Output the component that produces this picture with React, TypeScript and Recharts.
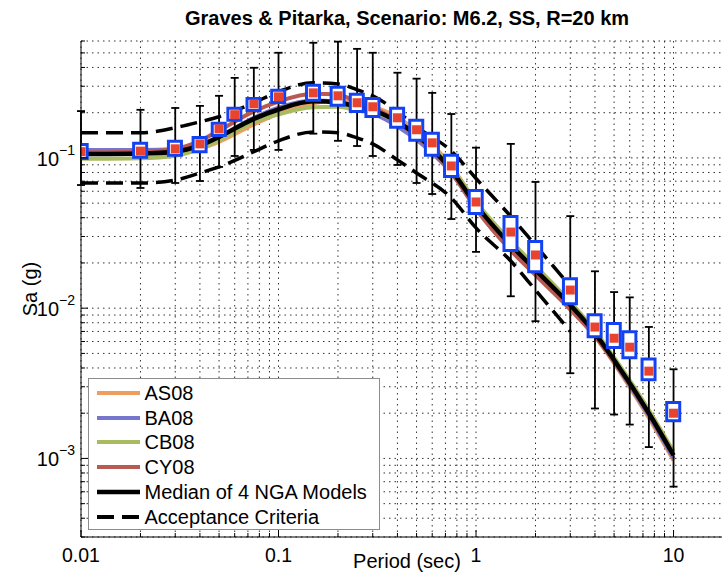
import React from 'react';
import {
  ComposedChart,
  Line,
  Bar,
  Scatter,
  ErrorBar,
  XAxis,
  YAxis,
  CartesianGrid,
  Legend,
  Label,
} from 'recharts';

// NGA model curves (Sa in g) at these periods (sec)
const curvePeriod = [0.01, 0.02, 0.03, 0.04, 0.05, 0.075, 0.1, 0.15, 0.2, 0.25, 0.3, 0.4, 0.5, 0.75, 1, 1.5, 2, 3, 4, 5, 7.5, 10];
const as08 = [0.106, 0.107, 0.108, 0.115, 0.128, 0.167, 0.197, 0.231, 0.241, 0.229, 0.219, 0.186, 0.152, 0.088, 0.0505, 0.0268, 0.018, 0.0103, 0.0065, 0.0043, 0.00186, 0.00097];
const ba08 = [0.113, 0.113, 0.114, 0.123, 0.139, 0.185, 0.216, 0.241, 0.236, 0.211, 0.197, 0.162, 0.132, 0.079, 0.0471, 0.0258, 0.0176, 0.0103, 0.0066, 0.00438, 0.00192, 0.001];
const cb08 = [0.0986, 0.0995, 0.1034, 0.115, 0.131, 0.173, 0.195, 0.217, 0.219, 0.207, 0.201, 0.174, 0.145, 0.0863, 0.051, 0.0279, 0.0191, 0.011, 0.00707, 0.0047, 0.0021, 0.00111];
const cy08 = [0.109, 0.11, 0.115, 0.13, 0.152, 0.204, 0.237, 0.267, 0.264, 0.235, 0.217, 0.174, 0.139, 0.08, 0.0457, 0.0242, 0.0166, 0.0098, 0.0065, 0.0044, 0.00198, 0.00105];
const median = [0.106, 0.107, 0.11, 0.121, 0.138, 0.182, 0.21, 0.238, 0.235, 0.218, 0.207, 0.174, 0.142, 0.083, 0.0486, 0.0263, 0.018, 0.0105, 0.0068, 0.00452, 0.002, 0.00105];

// acceptance criteria band
const accPeriod = [0.01, 0.02, 0.03, 0.04, 0.05, 0.075, 0.1, 0.15, 0.2, 0.25, 0.3, 0.4, 0.5, 0.75, 1, 1.5, 2, 3];
const accUpper = [0.147, 0.147, 0.159, 0.174, 0.188, 0.233, 0.276, 0.316, 0.311, 0.284, 0.259, 0.203, 0.161, 0.111, 0.073, 0.0408, 0.0262, 0.014];
const accLower = [0.068, 0.068, 0.0713, 0.0794, 0.0871, 0.11, 0.13, 0.149, 0.147, 0.136, 0.124, 0.097, 0.0794, 0.0541, 0.0342, 0.0206, 0.0132, 0.007];

// simulation results: median, whiskers and boxes
const obsPeriod = [0.01, 0.02, 0.03, 0.04, 0.05, 0.06, 0.075, 0.1, 0.15, 0.2, 0.25, 0.3, 0.4, 0.5, 0.6, 0.75, 1, 1.5, 2, 3, 4, 5, 6, 7.5, 10];
const obsSa = [0.11, 0.111, 0.115, 0.124, 0.156, 0.194, 0.229, 0.255, 0.271, 0.259, 0.233, 0.219, 0.185, 0.154, 0.126, 0.0884, 0.0509, 0.0321, 0.0226, 0.0132, 0.00749, 0.00631, 0.0055, 0.00381, 0.002];
const whiskerHi = [0.205, 0.209, 0.215, 0.222, 0.259, 0.341, 0.398, 0.501, 0.584, 0.594, 0.532, 0.501, 0.369, 0.337, 0.271, 0.196, 0.117, 0.124, 0.0692, 0.041, 0.0176, 0.0128, 0.0118, 0.0075, 0.00392];
const whiskerLo = [0.066, 0.0631, 0.0681, 0.0702, 0.0871, 0.103, 0.113, 0.113, 0.145, 0.13, 0.12, 0.103, 0.0898, 0.0681, 0.0575, 0.0392, 0.0237, 0.012, 0.00819, 0.00369, 0.00215, 0.00196, 0.00168, 0.00119, 0.000649];
const boxHi = [0.123, 0.125, 0.129, 0.137, 0.17, 0.214, 0.249, 0.282, 0.305, 0.295, 0.265, 0.249, 0.214, 0.178, 0.146, 0.104, 0.0607, 0.0408, 0.0278, 0.0157, 0.00904, 0.0079, 0.00697, 0.00459, 0.00236];
const boxLo = [0.0992, 0.101, 0.104, 0.11, 0.141, 0.178, 0.207, 0.234, 0.242, 0.224, 0.204, 0.189, 0.16, 0.131, 0.104, 0.0753, 0.0426, 0.0242, 0.0175, 0.0107, 0.00645, 0.00547, 0.00467, 0.00334, 0.00178];

// axis ticks (log axes, minor ticks carry the dotted grid)
const xTicks = [
  0.01, 0.02, 0.03, 0.04, 0.05, 0.06, 0.07, 0.08, 0.09,
  0.1, 0.2, 0.3, 0.4, 0.5, 0.6, 0.7, 0.8, 0.9,
  1, 2, 3, 4, 5, 6, 7, 8, 9,
  10, 20,
];
const xMajorTicks = [0.01, 0.1, 1, 10];
const xMajorLabels = ['0.01', '0.1', '1', '10'];
const yTicks = [
  0.0003, 0.0004, 0.0005, 0.0006, 0.0007, 0.0008, 0.0009,
  0.001, 0.002, 0.003, 0.004, 0.005, 0.006, 0.007, 0.008, 0.009,
  0.01, 0.02, 0.03, 0.04, 0.05, 0.06, 0.07, 0.08, 0.09,
  0.1, 0.2, 0.3, 0.4, 0.5, 0.6,
];
const yMajorTicks = [0.001, 0.01, 0.1];
const yMajorExp = ['\u22123', '\u22122', '\u22121'];

const legendItems = [
  { name: 'AS08', color: '#EF9D5E', width: 4 },
  { name: 'BA08', color: '#7676CC', width: 4 },
  { name: 'CB08', color: '#A9BB60', width: 4 },
  { name: 'CY08', color: '#B85A52', width: 4 },
  { name: 'Median of 4 NGA Models', color: '#000', width: 4.5 },
  { name: 'Acceptance Criteria', color: '#000', width: 4, dash: '17 8' },
];

const curveRows = curvePeriod.map((T, i) => ({
  T,
  as08: as08[i],
  ba08: ba08[i],
  cb08: cb08[i],
  cy08: cy08[i],
  median: median[i],
}));
const accRows = accPeriod.map((T, i) => ({ T, upper: accUpper[i], lower: accLower[i] }));
const obsRows = obsPeriod.map((T, i) => ({
  T,
  sa: obsSa[i],
  err: [obsSa[i] - whiskerLo[i], whiskerHi[i] - obsSa[i]],
  box: [boxLo[i], boxHi[i]],
}));

const FONT = '"Liberation Sans", Arial, Helvetica, sans-serif';

const BottomTick = ({ x, y, payload }: any) => {
  const i = xMajorTicks.indexOf(payload.value);
  return (
    <g>
      <line x1={x} x2={x} y1={y} y2={y - (i >= 0 ? 7 : 4)} stroke="#000" />
      {i >= 0 && (
        <text x={x} y={y + 25} textAnchor="middle" fontSize={19.5} fill="#000">
          {xMajorLabels[i]}
        </text>
      )}
    </g>
  );
};

const TopTick = ({ x, y, payload }: any) => {
  const major = xMajorTicks.includes(payload.value);
  return <line x1={x} x2={x} y1={y} y2={y + (major ? 7 : 4)} stroke="#000" />;
};

const LeftTick = ({ x, y, payload }: any) => {
  const i = yMajorTicks.indexOf(payload.value);
  return (
    <g>
      <line x1={x} x2={x + (i >= 0 ? 7 : 4)} y1={y} y2={y} stroke="#000" />
      {i >= 0 && (
        <text x={x - 6} y={y + 8} textAnchor="end" fontSize={20} fill="#000">
          10
          <tspan dy={-11} fontSize={14}>
            {yMajorExp[i]}
          </tspan>
        </text>
      )}
    </g>
  );
};

const Whisker = () => <g />;

const RedMark = ({ cx, cy }: any) => (
  <rect x={cx - 4.5} y={cy - 4.5} width={9} height={9} fill="#E8432F" />
);

const LegendBox = () => (
  <div
    style={{
      width: 292,
      height: 152,
      boxSizing: 'border-box',
      border: '1.5px solid #8c8c8c',
      background: '#fff',
      paddingTop: 1.5,
      paddingLeft: 7.5,
      fontFamily: FONT,
      fontSize: 20,
      color: '#000',
    }}
  >
    {legendItems.map((item) => (
      <div key={item.name} style={{ display: 'flex', alignItems: 'center', height: 24.8 }}>
        <svg width={43} height={10} style={{ marginRight: 5 }}>
          <line
            x1={0}
            x2={43}
            y1={5}
            y2={5}
            stroke={item.color}
            strokeWidth={item.width}
            strokeDasharray={item.dash}
          />
        </svg>
        <span style={{ lineHeight: '24px', whiteSpace: 'nowrap' }}>{item.name}</span>
      </div>
    ))}
  </div>
);

export default function App() {
  return (
    <div
      style={{
        position: 'absolute',
        left: 0,
        top: 0,
        width: 722,
        height: 573,
        overflow: 'hidden',
        background: '#fff',
        fontFamily: FONT,
      }}
    >
      <div
        style={{
          position: 'absolute',
          left: 0,
          top: 5,
          width: 814,
          textAlign: 'center',
          fontSize: 20,
          fontWeight: 'bold',
          lineHeight: '26px',
          zIndex: 2,
        }}
      >
        Graves &amp; Pitarka, Scenario: M6.2, SS, R=20 km
      </div>
      <ComposedChart width={760} height={573} data={obsRows} margin={{ top: 41, right: 27, bottom: 0, left: 0 }}>
        <CartesianGrid stroke="#333" strokeDasharray="1.5 4" strokeWidth={1} />
        <XAxis
          dataKey="T"
          type="number"
          scale="log"
          domain={[0.01, 20]}
          ticks={xTicks}
          interval={0}
          allowDataOverflow
          height={36}
          tickSize={0}
          tickMargin={0}
          tickLine={false}
          tick={<BottomTick />}
          axisLine={{ stroke: '#000' }}
        >
          <Label
            content={({ viewBox }: any) => (
              <text x={viewBox.x + viewBox.width / 2} y={viewBox.y + 31} textAnchor="middle" fontSize={20} fill="#000">
                Period (sec)
              </text>
            )}
          />
        </XAxis>
        <XAxis
          xAxisId="top"
          orientation="top"
          dataKey="T"
          type="number"
          scale="log"
          domain={[0.01, 20]}
          ticks={xTicks}
          interval={0}
          allowDataOverflow
          height={0}
          tickSize={0}
          tickMargin={0}
          tickLine={false}
          tick={<TopTick />}
          axisLine={{ stroke: '#000' }}
        />
        <YAxis
          type="number"
          scale="log"
          domain={[0.0003, 0.6]}
          ticks={yTicks}
          interval={0}
          allowDataOverflow
          width={81}
          tickSize={0}
          tickMargin={0}
          tickLine={false}
          tick={<LeftTick />}
          axisLine={{ stroke: '#000' }}
        >
          <Label
            content={({ viewBox }: any) => (
              <text
                transform={`translate(37, ${viewBox.y + viewBox.height / 2}) rotate(-90)`}
                textAnchor="middle"
                fontSize={20}
                fill="#000"
              >
                Sa (g)
              </text>
            )}
          />
        </YAxis>

        <Line data={curveRows} dataKey="as08" type="monotone" stroke="#EF9D5E" strokeWidth={4} dot={false} isAnimationActive={false} zIndex={110} />
        <Line data={curveRows} dataKey="ba08" type="monotone" stroke="#7676CC" strokeWidth={4} dot={false} isAnimationActive={false} zIndex={110} />
        <Line data={curveRows} dataKey="cb08" type="monotone" stroke="#A9BB60" strokeWidth={4} dot={false} isAnimationActive={false} zIndex={110} />
        <Line data={curveRows} dataKey="cy08" type="monotone" stroke="#B85A52" strokeWidth={4} dot={false} isAnimationActive={false} zIndex={110} />
        <Line data={curveRows} dataKey="median" type="monotone" stroke="#000" strokeWidth={4.5} dot={false} isAnimationActive={false} zIndex={111} />
        <Line data={accRows} dataKey="upper" type="monotone" stroke="#000" strokeWidth={3.5} strokeDasharray="17 8" dot={false} isAnimationActive={false} zIndex={112} />
        <Line data={accRows} dataKey="lower" type="monotone" stroke="#000" strokeWidth={3.5} strokeDasharray="17 8" dot={false} isAnimationActive={false} zIndex={112} />

        <Scatter data={obsRows} dataKey="sa" shape={<Whisker />} isAnimationActive={false} zIndex={120}>
          <ErrorBar dataKey="err" direction="y" width={4} stroke="#000" strokeWidth={1.8} isAnimationActive={false} zIndex={120} />
        </Scatter>
        <Bar dataKey="box" barSize={13} fill="#fff" stroke="#1342F2" strokeWidth={3} isAnimationActive={false} zIndex={130} />
        <Scatter data={obsRows} dataKey="sa" shape={<RedMark />} isAnimationActive={false} zIndex={140} />

        <Legend
          layout="horizontal"
          verticalAlign="middle"
          align="center"
          content={<LegendBox />}
          wrapperStyle={{ position: 'absolute', left: 88, top: 378, width: 292, height: 152 }}
        />
      </ComposedChart>
    </div>
  );
}
